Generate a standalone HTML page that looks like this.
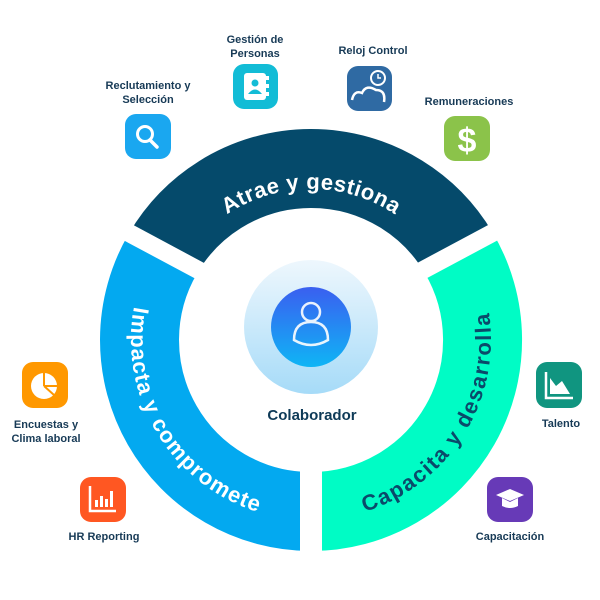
<!DOCTYPE html>
<html><head><meta charset="utf-8"><style>
html,body{margin:0;padding:0;background:#fff;}
svg{display:block;}
.lb{font-family:"Liberation Sans",sans-serif;font-weight:bold;font-size:11px;fill:#173a56;text-anchor:middle;}
.arc{font-family:"Liberation Sans",sans-serif;font-weight:bold;font-size:22px;}
</style></head><body>
<svg width="600" height="600" viewBox="0 0 600 600" xmlns="http://www.w3.org/2000/svg">
<defs>
<linearGradient id="pale" x1="0" y1="0" x2="0" y2="1"><stop offset="0" stop-color="#eef7fd"/><stop offset="1" stop-color="#a6dbf8"/></linearGradient>
<linearGradient id="blu" x1="0" y1="0" x2="0" y2="1"><stop offset="0" stop-color="#3a5ff0"/><stop offset="1" stop-color="#0fb5f5"/></linearGradient>
<path id="pt" d="M180.2,264.5 A151,151 0 0 1 441.8,264.5"/>
<path id="pl" d="M153.6,252.7 A180,180 0 0 0 314.1,520"/>
<path id="pr" d="M304.7,519.9 A180,180 0 0 0 469.9,255.5"/>
</defs>
<g fill="none" stroke-width="79">
<path d="M163.1,253.2 A171.5,171.5 0 0 1 458.5,252.4" stroke="#054a6b"/>
<path d="M311,511.5 A171.5,171.5 0 0 1 163.1,253.2" stroke="#03a9f0"/>
<path d="M458.5,252.4 A171.5,171.5 0 0 1 311,511.5" stroke="#00fcc5"/>
</g>
<g stroke="#fff" stroke-width="18">
<line x1="88" y1="211" x2="215" y2="279"/>
<line x1="524" y1="216" x2="397" y2="284"/>
<line x1="311" y1="440" x2="311" y2="565" stroke-width="22"/>
</g>
<text class="arc" fill="#fff"><textPath href="#pt" startOffset="50%" text-anchor="middle" textLength="178">Atrae y gestiona</textPath></text>
<text class="arc" fill="#fff"><textPath href="#pl" startOffset="50%" text-anchor="middle" textLength="262">Impacta y compromete</textPath></text>
<text class="arc" fill="#0b4a6a"><textPath href="#pr" startOffset="50%" text-anchor="middle" textLength="255">Capacita y desarrolla</textPath></text>
<circle cx="311" cy="327" r="67" fill="url(#pale)"/>
<circle cx="311" cy="327" r="40" fill="url(#blu)"/>
<g fill="none" stroke="#fff" stroke-width="2.5" opacity="0.9">
<circle cx="311" cy="312" r="9"/>
<path d="M294,340 Q294,322 311,322 Q328,322 328,340 Q311,350 294,340 Z"/>
</g>
<text x="312" y="420" font-family="Liberation Sans,sans-serif" font-weight="bold" font-size="15" fill="#0e3a57" text-anchor="middle">Colaborador</text>
<rect x="125" y="114" width="46" height="45" rx="11" fill="#1aa7f0"/>
<circle cx="145" cy="134" r="7.5" fill="none" stroke="#fff" stroke-width="3"/>
<line x1="150" y1="140" x2="157" y2="147" stroke="#fff" stroke-width="3.5" stroke-linecap="round"/>
<rect x="233" y="64" width="45" height="45" rx="11" fill="#12bcd6"/>
<rect x="244" y="73" width="22" height="27" rx="3" fill="#fff"/>
<rect x="266" y="76" width="3" height="4" fill="#fff"/><rect x="266" y="84" width="3" height="4" fill="#fff"/><rect x="266" y="92" width="3" height="4" fill="#fff"/>
<circle cx="255" cy="83" r="3.5" fill="#12bcd6"/><path d="M248,94 Q255,85 262,94Z" fill="#12bcd6"/>
<rect x="347" y="66" width="45" height="45" rx="11" fill="#2f6aa3"/>
<path d="M352,100 Q354,90 362,93 Q366,84 376,90 Q386,90 384,102" fill="none" stroke="#fff" stroke-width="2.5"/>
<circle cx="378" cy="78" r="7" fill="#2f6aa3" stroke="#fff" stroke-width="2"/>
<path d="M378,74 V78 H381" fill="none" stroke="#fff" stroke-width="1.5"/>
<rect x="444" y="116" width="46" height="45" rx="11" fill="#8bc34a"/>
<text x="467" y="152" font-family="Liberation Sans,sans-serif" font-weight="bold" font-size="34" fill="#fff" text-anchor="middle">$</text>
<rect x="22" y="362" width="46" height="46" rx="11" fill="#ff9800"/>
<circle cx="44" cy="386" r="13" fill="#fff"/>
<path d="M44,386 L44,373 M44,386 L57,386 M44,386 L54,395" stroke="#ff9800" stroke-width="2"/>
<rect x="80" y="477" width="46" height="45" rx="11" fill="#ff5722"/>
<path d="M90,486 V511 H116" fill="none" stroke="#fff" stroke-width="2.5"/>
<g fill="#fff"><rect x="95" y="500" width="3" height="7"/><rect x="100" y="496" width="3" height="11"/><rect x="105" y="499" width="3" height="8"/><rect x="110" y="491" width="3" height="16"/></g>
<rect x="536" y="362" width="46" height="46" rx="11" fill="#109580"/>
<path d="M546,372 V398 H573" fill="none" stroke="#fff" stroke-width="2.5"/>
<path d="M550,394 V378 L556,386 L562,381 L570,394 Z" fill="#fff"/>
<rect x="487" y="477" width="46" height="45" rx="11" fill="#673ab7"/>
<path d="M496,495 L510,489 L524,495 L510,501 Z" fill="#fff"/>
<path d="M502,498 V506 Q510,510 518,506 V498 L510,502 Z" fill="#fff"/>
<text class="lb" x="148" y="89">Reclutamiento y</text>
<text class="lb" x="148" y="103">Selección</text>
<text class="lb" x="255" y="43">Gestión de</text>
<text class="lb" x="255" y="57">Personas</text>
<text class="lb" x="373" y="54">Reloj Control</text>
<text class="lb" x="469" y="105">Remuneraciones</text>
<text class="lb" x="46" y="428">Encuestas y</text>
<text class="lb" x="46" y="442">Clima laboral</text>
<text class="lb" x="104" y="540">HR Reporting</text>
<text class="lb" x="561" y="427">Talento</text>
<text class="lb" x="510" y="540">Capacitación</text>
</svg>
</body></html>
